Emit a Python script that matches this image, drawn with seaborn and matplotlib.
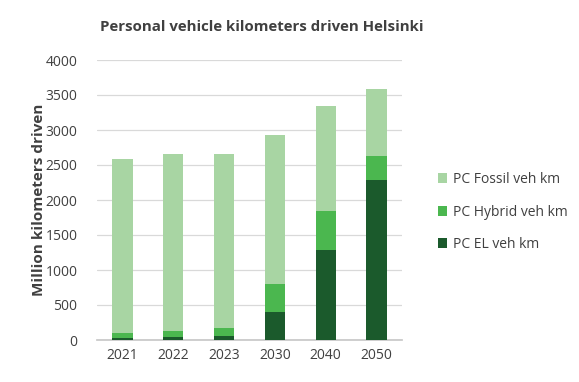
import matplotlib
matplotlib.use("Agg")
import matplotlib.pyplot as plt
import seaborn as sns
import pandas as pd
import numpy as np

years = ["2021", "2022", "2023", "2030", "2040", "2050"]
el = [29, 43, 52, 395, 1286, 2286]
hybrid = [66, 81, 124, 400, 557, 338]
fossil = [2486, 2533, 2476, 2129, 1495, 962]

c_fossil = "#a8d5a3"
c_hybrid = "#4bb74f"
c_el = "#1b5a2c"

sns.set_theme(style="white")
plt.rcParams['font.family'] = ['Open Sans', 'DejaVu Sans']

fig = plt.figure(figsize=(5.79, 3.82), dpi=100)
ax = fig.add_axes([97/579, 1 - 340/382, (402-97)/579, (340-60)/382])

el_a = np.array(el)
hy_a = np.array(hybrid)
fo_a = np.array(fossil)

df = pd.DataFrame({"year": years, "el": el_a, "hy_top": el_a + hy_a, "tot": el_a + hy_a + fo_a})

kw = dict(width=0.4, ax=ax, saturation=1, zorder=3, linewidth=0, edgecolor="none")
sns.barplot(data=df, x="year", y="tot", color=c_fossil, label="PC Fossil veh km", **kw)
sns.barplot(data=df, x="year", y="hy_top", color=c_hybrid, label="PC Hybrid veh km", **kw)
sns.barplot(data=df, x="year", y="el", color=c_el, label="PC EL veh km", **kw)

handles, labels = ax.get_legend_handles_labels()
if ax.get_legend() is not None:
    ax.get_legend().remove()

ax.set_ylim(0, 4000)
ax.set_yticks(range(0, 4001, 500))
ax.grid(axis="y", color="#d9d9d9", linewidth=0.9, zorder=0)
ax.set_axisbelow(True)
for s in ["top", "right", "left"]:
    ax.spines[s].set_visible(False)
ax.spines["bottom"].set_color("#c8c8c8")
ax.tick_params(axis="y", colors="#404040", labelsize=10, length=0, pad=14)
ax.tick_params(axis="x", colors="#404040", labelsize=10, length=0, pad=6)
ax.set_xlabel("")
ax.set_ylabel("Million kilometers driven", fontsize=11, fontweight="bold", color="#404040", labelpad=0)
ax.set_xlim(-0.5, 5.5)

fig.text(262/579, 1 - 27/382, "Personal vehicle kilometers driven Helsinki",
         ha="center", va="center", fontsize=10.8, fontweight="bold", color="#404040")

fig.legend(handles, labels, loc="center left", bbox_to_anchor=(425/579, 1 - 212/382),
           frameon=False, fontsize=10, handlelength=0.7, handleheight=0.7,
           handletextpad=0.4, labelspacing=1.25, labelcolor="#404040")

fig.savefig("out.png", dpi=100)
